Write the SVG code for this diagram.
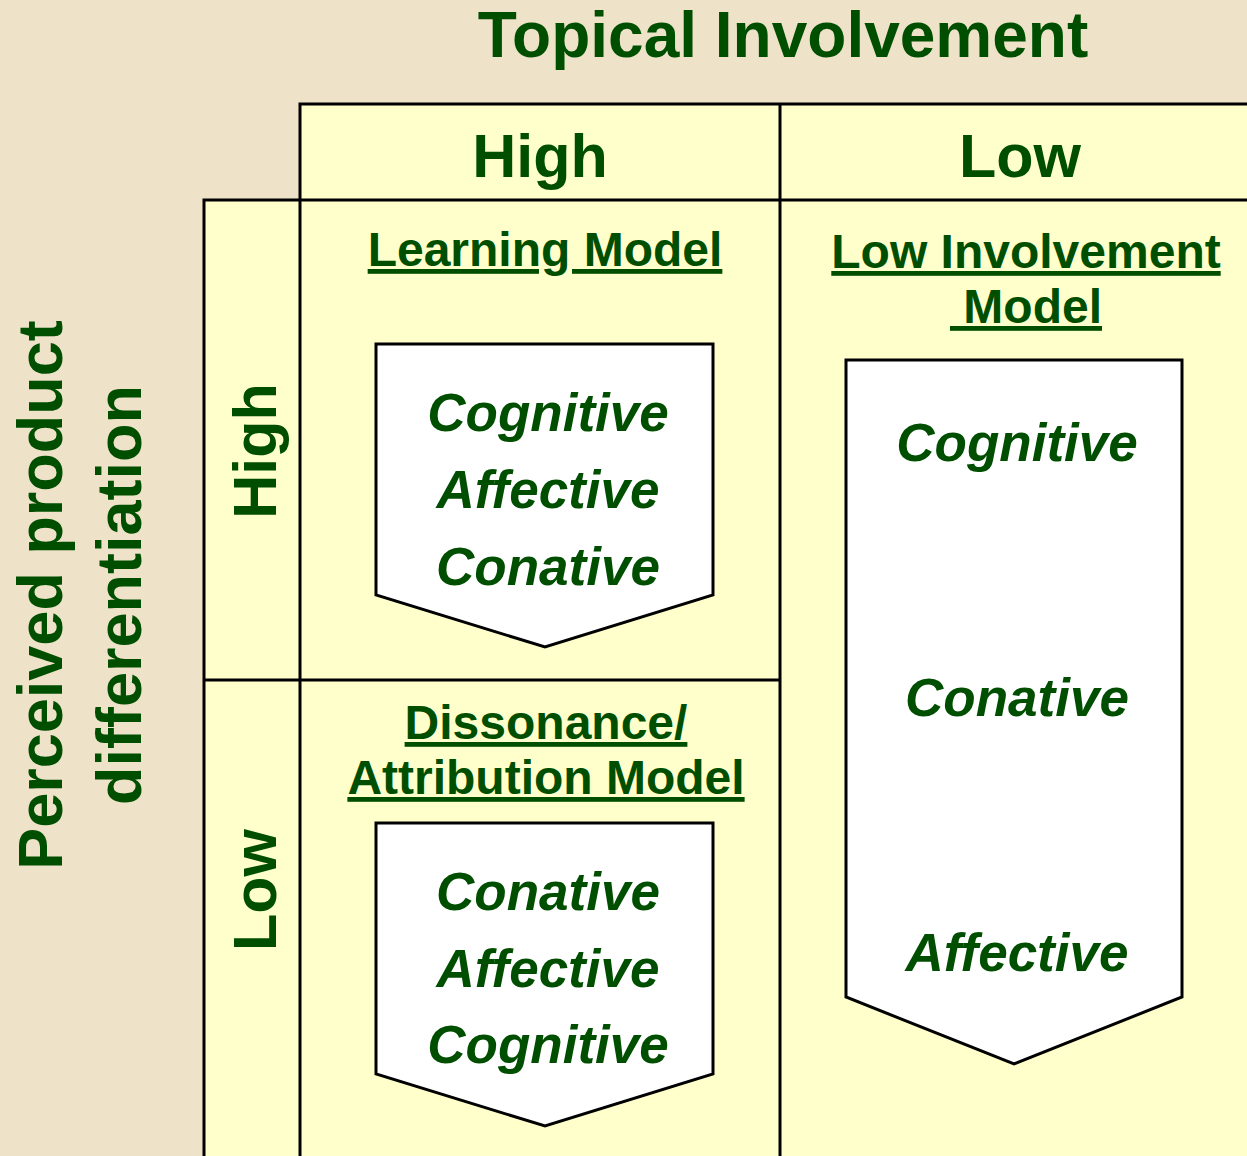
<svg xmlns="http://www.w3.org/2000/svg" width="1247" height="1156" viewBox="0 0 1247 1156">
  <style>
    .t { font-family: "Liberation Sans", Arial, sans-serif; font-weight: bold; fill: #004f00; text-anchor: middle; }
    .title { font-size: 64px; }
    .head { font-size: 61px; }
    .model { font-size: 48px; text-decoration: underline; }
    .stage { font-size: 53px; font-style: italic; }
    .axis { font-size: 63px; }
    .cell { fill: #ffffcc; stroke: none; }
    .grid { stroke: #000; stroke-width: 3; fill: none; }
    .arrow { fill: #fff; stroke: #000; stroke-width: 3; stroke-linejoin: miter; }
  </style>

  <!-- page background -->
  <rect width="1247" height="1156" fill="#eee2c9"/>

  <!-- matrix cells -->
  <g id="matrix">
    <rect class="cell" x="300" y="104" width="947" height="1052"/>
    <rect class="cell" x="204" y="200" width="96" height="956"/>
    <path class="grid" d="M300 1156 V104 H1247 M204 1156 V200 H1247 M780 104 V1156 M204 680 H780"/>
  </g>

  <!-- axis titles -->
  <g id="axis-top">
    <text class="t title" x="783" y="57">Topical Involvement</text>
    <text class="t head" x="540" y="177">High</text>
    <text class="t head" x="1020" y="177">Low</text>
  </g>
  <g id="axis-left">
    <text class="t axis" transform="translate(62 595) rotate(-90)">Perceived product</text>
    <text class="t axis" transform="translate(141 595) rotate(-90)">differentiation</text>
    <text class="t head" transform="translate(276 451) rotate(-90)">High</text>
    <text class="t head" transform="translate(276 890) rotate(-90)">Low</text>
  </g>

  <!-- learning model (high / high) -->
  <g id="learning-model">
    <text class="t model" x="545" y="266">Learning Model</text>
    <polygon class="arrow" points="376,344 713,344 713,595 545,647 376,595"/>
    <text class="t stage" x="548" y="431">Cognitive</text>
    <text class="t stage" x="548" y="508">Affective</text>
    <text class="t stage" x="548" y="585">Conative</text>
  </g>

  <!-- dissonance / attribution model (high involvement / low differentiation) -->
  <g id="dissonance-model">
    <text class="t model" x="546" y="739">Dissonance/</text>
    <text class="t model" x="546" y="794">Attribution Model</text>
    <polygon class="arrow" points="376,823 713,823 713,1074 545,1126 376,1074"/>
    <text class="t stage" x="548" y="910">Conative</text>
    <text class="t stage" x="548" y="987">Affective</text>
    <text class="t stage" x="548" y="1063">Cognitive</text>
  </g>

  <!-- low involvement model -->
  <g id="low-involvement-model">
    <text class="t model" x="1026" y="268">Low Involvement</text>
    <text class="t model" x="1026" y="323" xml:space="preserve"> Model</text>
    <polygon class="arrow" points="846,360 1182,360 1182,997 1014,1064 846,997"/>
    <text class="t stage" x="1017" y="461">Cognitive</text>
    <text class="t stage" x="1017" y="716">Conative</text>
    <text class="t stage" x="1017" y="971">Affective</text>
  </g>

  <!-- no connectors in this chart -->
  <g id="connectors"/>
</svg>
